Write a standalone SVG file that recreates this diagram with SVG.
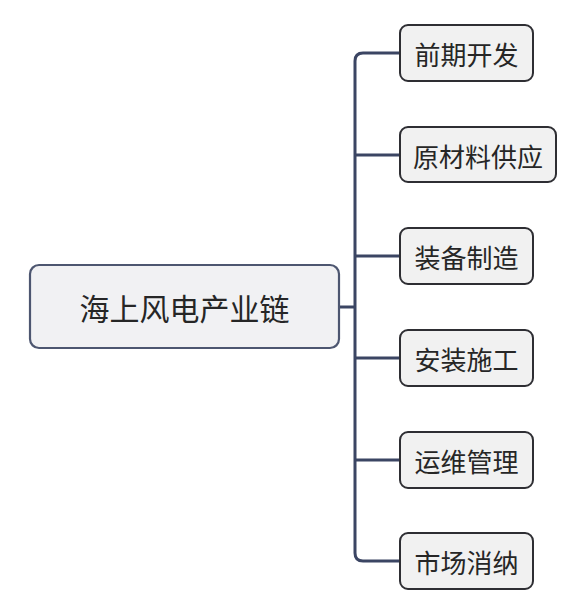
<svg xmlns="http://www.w3.org/2000/svg" width="581" height="609" viewBox="0 0 581 609">
<style>
.box{fill:#f1f1f1;stroke:#2e2e33;stroke-width:2}
.root{fill:#f1f1f3;stroke:#4d5670;stroke-width:2.2}
.t{font-family:"Noto Sans CJK SC","Noto Sans",sans-serif;fill:#262626;text-anchor:middle;dominant-baseline:central}
.c{fill:none;stroke:#3b4563;stroke-width:3}
</style>
<rect width="581" height="609" fill="#ffffff"/>
<g id="connectors">
<path class="c" d="M339,307 H355"/>
<path class="c" d="M400,53 H363 Q355,53 355,61 V553 Q355,561 363,561 H400"/>
<path class="c" d="M355,155 H400"/>
<path class="c" d="M355,256 H400"/>
<path class="c" d="M355,358 H400"/>
<path class="c" d="M355,460 H400"/>
</g>
<g id="root">
<rect class="root" x="30" y="265" width="309" height="83" rx="9"/>
<text class="t" x="184.5" y="307" font-size="30">海上风电产业链</text>
</g>
<g id="n1">
<rect class="box" x="400" y="25" width="133" height="56" rx="8"/>
<text class="t" x="466.5" y="53" font-size="26">前期开发</text>
</g>
<g id="n2">
<rect class="box" x="400" y="127" width="156" height="55" rx="8"/>
<text class="t" x="478" y="155" font-size="26">原材料供应</text>
</g>
<g id="n3">
<rect class="box" x="400" y="228" width="133" height="56" rx="8"/>
<text class="t" x="466.5" y="256" font-size="26">装备制造</text>
</g>
<g id="n4">
<rect class="box" x="400" y="330" width="133" height="56" rx="8"/>
<text class="t" x="466.5" y="358" font-size="26">安装施工</text>
</g>
<g id="n5">
<rect class="box" x="400" y="432" width="133" height="56" rx="8"/>
<text class="t" x="466.5" y="460" font-size="26">运维管理</text>
</g>
<g id="n6">
<rect class="box" x="400" y="533" width="133" height="56" rx="8"/>
<text class="t" x="466.5" y="561" font-size="26">市场消纳</text>
</g>
</svg>
